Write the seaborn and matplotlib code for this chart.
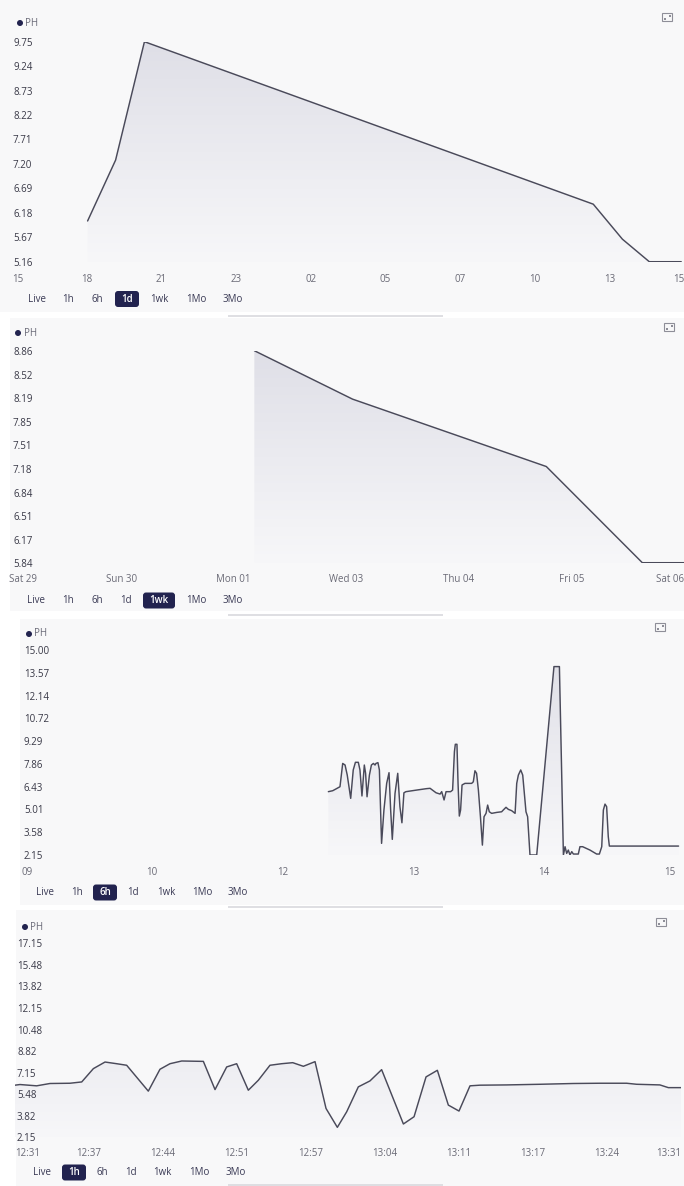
import numpy as np
import pandas as pd
import matplotlib
matplotlib.use("Agg")
import matplotlib.pyplot as plt
import seaborn as sns
from matplotlib.colors import LinearSegmentedColormap
from matplotlib.patches import FancyBboxPatch, Rectangle, Circle

# ---------------- data ----------------
# Panel 1 (1d): hours since 15:00
p1_hours = [2.70, 3.70, 4.73, 20.76, 21.80, 22.76, 23.90]
p1_ph = [6.01, 7.28, 9.75, 6.36, 5.63, 5.16, 5.16]
p1_yticks = [5.16, 5.67, 6.18, 6.69, 7.20, 7.71, 8.22, 8.73, 9.24, 9.75]
p1_xlabels = ["15", "18", "21", "23", "02", "05", "07", "10", "13", "15"]

# Panel 2 (1wk): days since Sat 29
p2_days = [2.547, 3.565, 5.573, 6.568, 7.0]
p2_ph = [8.86, 8.17, 7.21, 5.84, 5.84]
p2_yticks = [5.84, 6.17, 6.51, 6.84, 7.18, 7.51, 7.85, 8.19, 8.52, 8.86]
p2_xlabels = ["Sat 29", "Sun 30", "Mon 01", "Wed 03", "Thu 04", "Fri 05", "Sat 06"]

# Panel 3 (6h): minutes since 09:00
p3_minutes = [169.2, 171.6, 172.9, 175.6, 177.1, 178.4, 179.6, 181.5, 182.9, 184.1,
              185.7, 186.6, 187.7, 189.0, 189.7, 190.5, 191.8, 192.9, 194.0, 194.9,
              195.4, 196.5, 197.3, 198.5, 199.8, 201.3, 202.6, 203.5, 204.4, 205.9,
              207.4, 208.6, 209.7, 210.8, 211.9, 217.8, 223.3, 225.2, 228.5, 230.7,
              231.6, 232.9, 234.0, 236.5, 237.6, 238.6, 239.1, 240.0, 240.6, 241.3,
              242.0, 242.8, 244.4, 248.1, 249.0, 249.9, 250.8, 251.8, 252.9, 254.0,
              254.9, 256.0, 256.9, 257.8, 259.1, 261.9, 264.6, 265.5, 267.0, 268.3,
              270.1, 272.0, 272.9, 273.8, 275.1, 276.2, 277.1, 278.0, 278.9, 280.2,
              283.9, 293.4, 296.4, 298.6, 299.5, 300.4, 301.3, 302.2, 303.2, 304.1,
              305.5, 306.8, 307.7, 309.2, 313.2, 316.9, 318.4, 319.7, 320.6, 321.5,
              322.4, 323.3, 323.9, 362.0]
p3_ph = [6.12, 6.18, 6.26, 6.43, 7.89, 7.79, 7.16, 5.70, 7.48, 7.96,
         7.96, 7.48, 5.85, 7.79, 7.27, 5.80, 7.16, 7.79, 7.89, 7.79,
         7.89, 7.94, 7.48, 2.88, 4.97, 6.64, 7.31, 4.97, 3.13, 6.01,
         7.27, 5.18, 4.17, 6.05, 6.12, 6.22, 6.31, 6.33, 6.05, 5.97,
         6.12, 5.60, 6.12, 6.12, 6.22, 8.63, 9.09, 9.09, 6.64, 4.59,
         4.97, 6.54, 6.64, 6.64, 6.74, 7.43, 7.27, 6.22, 4.59, 2.77,
         4.55, 4.76, 5.28, 4.86, 4.76, 4.82, 4.86, 4.97, 5.14, 5.01,
         4.93, 4.76, 6.64, 7.16, 7.48, 7.16, 6.01, 4.86, 4.55, 2.15,
         2.15, 13.96, 13.96, 2.15, 2.67, 2.25, 2.46, 2.15, 2.36, 2.21,
         2.21, 2.21, 2.67, 2.67, 2.46, 2.21, 2.21, 2.67, 4.97, 5.34,
         5.18, 3.30, 2.71, 2.71]
p3_yticks = [2.15, 3.58, 5.01, 6.43, 7.86, 9.29, 10.72, 12.14, 13.57, 15.00]
p3_xlabels = ["09", "10", "12", "13", "14", "15"]

# Panel 4 (1h): minutes since 12:31
p4_minutes = [0.0, 0.45, 1.95, 3.15, 4.95, 6.01, 7.06, 8.11, 9.16, 10.06,
              12.01, 13.06, 13.96, 15.02, 16.97, 18.02, 19.07, 19.97, 21.02, 21.92,
              22.97, 24.02, 25.02, 25.98, 27.03, 28.02, 29.04, 29.88, 30.93, 31.98,
              33.03, 34.99, 35.95, 37.03, 38.05, 39.04, 40.0, 40.99, 41.89, 44.3,
              47.3, 50.3, 52.7, 55.1, 56.0, 58.1, 58.86, 60.0]
p4_ph = [6.18, 6.23, 6.13, 6.31, 6.33, 6.43, 7.46, 7.97, 7.84, 7.72,
         5.72, 7.41, 7.84, 8.05, 8.02, 5.84, 7.59, 7.84, 5.79, 6.56,
         7.72, 7.84, 7.92, 7.64, 8.00, 4.38, 2.92, 4.12, 6.05, 6.51,
         7.38, 3.18, 3.74, 6.82, 7.33, 4.64, 4.18, 6.13, 6.18, 6.20,
         6.25, 6.31, 6.33, 6.33, 6.25, 6.20, 5.99, 5.99]
p4_yticks = [2.15, 3.82, 5.48, 7.15, 8.82, 10.48, 12.15, 13.82, 15.48, 17.15]
p4_xlabels = ["12:31", "12:37", "12:44", "12:51", "12:57", "13:04", "13:11", "13:17", "13:24", "13:31"]

ranges = ["Live", "1h", "6h", "1d", "1wk", "1Mo", "3Mo"]
series_name = "PH"

# ---------------- style ----------------
sns.set_theme(style="white")
plt.rcParams["font.family"] = ["Open Sans", "DejaVu Sans"]

W, H = 684, 1186
LINE = "#4a4a5a"
NAVY = "#22234f"
YC = "#383846"
XC = "#6a6a76"
PANEL_BG = "#f8f8f9"
FILL_CMAP = LinearSegmentedColormap.from_list("fill", ["#f7f7f9", "#dfdfe7"])

fig = plt.figure(figsize=(W / 100, H / 100), dpi=100, facecolor="white")

# background layer
bg = fig.add_axes([0, 0, 1, 1], zorder=0)
bg.set_xlim(0, W); bg.set_ylim(H, 0); bg.axis("off")
for (x0, y0, x1, y1) in [(0, 0, 684, 312), (10, 318, 684, 611), (20, 619, 684, 905), (16, 910, 684, 1186)]:
    bg.add_patch(Rectangle((x0, y0), x1 - x0, y1 - y0, facecolor=PANEL_BG, edgecolor="none"))

# UI layer
ui = fig.add_axes([0, 0, 1, 1], zorder=5)
ui.set_xlim(0, W); ui.set_ylim(H, 0); ui.axis("off"); ui.patch.set_alpha(0)


def panel(left, right, top, bottom, x, y, xlim, ylim, yticks, xticks, xlabels, ylab_off_px, xpad_pt):
    ax = fig.add_axes([left / W, 1 - bottom / H, (right - left) / W, (bottom - top) / H], zorder=2)
    ax.set_facecolor("none")
    df = pd.DataFrame({"t": x, "ph": y})
    sns.lineplot(data=df, x="t", y="ph", ax=ax, color=LINE, linewidth=1.05,
                 estimator=None, sort=False, zorder=3)
    poly = ax.fill_between(df["t"], df["ph"], ylim[0], facecolor="none", edgecolor="none")
    path = poly.get_paths()[0]
    grad = np.linspace(0, 1, 256).reshape(-1, 1)
    im = ax.imshow(grad, extent=[xlim[0], xlim[1], ylim[0], ylim[1]], origin="lower",
                   aspect="auto", cmap=FILL_CMAP, zorder=1, interpolation="bilinear")
    im.set_clip_path(path, transform=ax.transData)
    ax.set_xlim(*xlim)
    ax.set_ylim(*ylim)
    for s in ax.spines.values():
        s.set_visible(False)
    ax.grid(False)
    ax.set_axisbelow(False)
    ax.set_xlabel(""); ax.set_ylabel("")
    ax.set_yticks(yticks, [f"{v:.2f}" for v in yticks])
    ax.set_xticks(xticks, xlabels)
    ax.tick_params(axis="y", length=0, pad=-ylab_off_px * 0.72, labelsize=7, labelcolor=YC)
    ax.tick_params(axis="x", length=0, pad=xpad_pt, labelsize=7, labelcolor=XC)
    for lab in ax.get_yticklabels():
        lab.set_horizontalalignment("left")
    xl = ax.get_xticklabels()
    xl[0].set_horizontalalignment("left")
    xl[-1].set_horizontalalignment("right")
    return ax


# Panel 1
panel(12, 684, 41.7, 261.7, p1_hours, p1_ph, (0, 24), (5.16, 9.75), p1_yticks,
      np.linspace(0, 24, len(p1_xlabels)), p1_xlabels, 1, 8.5)
# Panel 2
panel(8.6, 684, 350.7, 562.7, p2_days, p2_ph, (0, 7), (5.84, 8.86), p2_yticks,
      np.linspace(0, 7, len(p2_xlabels)), p2_xlabels, 4.4, 8.0)
# Panel 3
panel(21, 21 + 365 * 1.8165, 650, 855, p3_minutes, p3_ph, (0, 365), (2.15, 15.00), p3_yticks,
      np.linspace(0, 360, len(p3_xlabels)), p3_xlabels, 3, 8.5)
# Panel 4
panel(15, 681, 943.3, 1137.3, p4_minutes, p4_ph, (0, 60), (2.15, 17.15), p4_yticks,
      np.linspace(0, 60, len(p4_xlabels)), p4_xlabels, 2, 7.8)

# legends "● PH"
for (dx, dy, tx) in [(20, 23, 25), (18, 333, 24), (29, 634, 34), (25, 927, 30)]:
    ui.add_patch(Circle((dx, dy), 3.0, facecolor=NAVY, edgecolor="none"))
    ui.text(tx, dy, series_name, fontsize=7, color="#6b6b78", va="center", ha="left")

# expand icons
for (cx, cy) in [(667, 17), (669, 327), (660, 627), (661, 922)]:
    ui.add_patch(Rectangle((cx - 5, cy - 4), 10, 8, facecolor="none", edgecolor="#8e8e98", linewidth=0.8))
    ui.add_patch(Rectangle((cx - 3.5, cy + 0.5), 2, 2, facecolor="#8e8e98", edgecolor="none"))
    ui.add_patch(Rectangle((cx + 1.5, cy - 2.5), 2, 2, facecolor="#8e8e98", edgecolor="none"))

# range selector buttons
button_rows = [
    (299, [37, 68, 97, 127, 159, 196, 233], 3, (115, 139)),
    (600.5, [36, 68, 97, 126, 159, 196, 233], 4, (143, 175)),
    (892.5, [45, 77, 105, 133, 166, 202, 238], 2, (93, 117)),
    (1172.5, [42, 74, 102, 130.5, 162, 199, 236], 1, (62, 86)),
]
for yc, xs, active, (bx0, bx1) in button_rows:
    ui.add_patch(FancyBboxPatch((bx0, yc - 8), bx1 - bx0, 16,
                                boxstyle="round,pad=0,rounding_size=3",
                                facecolor=NAVY, edgecolor="none"))
    for i, (lab, xc) in enumerate(zip(ranges, xs)):
        ui.text(xc, yc, lab, fontsize=7, ha="center", va="center",
                color="white" if i == active else "#3a3a55",
                fontweight="semibold" if i == active else "medium")

# scroll indicator lines
for ly in [316, 615, 907, 1184.5]:
    ui.plot([228, 443], [ly, ly], color="#d9d9de", linewidth=1.2, solid_capstyle="butt")

fig.savefig("out.png", dpi=100, facecolor=fig.get_facecolor())
